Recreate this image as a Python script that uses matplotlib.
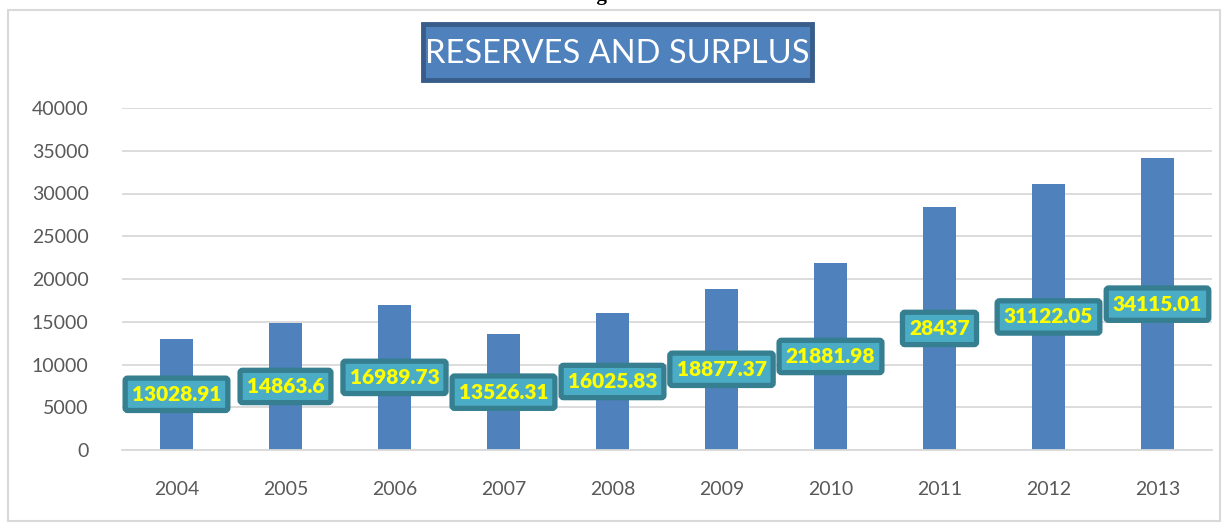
import matplotlib
matplotlib.use("Agg")
import matplotlib.pyplot as plt
from matplotlib.patches import Rectangle

years = ["2004", "2005", "2006", "2007", "2008", "2009", "2010", "2011", "2012", "2013"]
values = [13028.91, 14863.6, 16989.73, 13526.31, 16025.83, 18877.37, 21881.98, 28437, 31122.05, 34115.01]
label_texts = ["13028.91", "14863.6", "16989.73", "13526.31", "16025.83", "18877.37", "21881.98", "28437", "31122.05", "34115.01"]
yticks = [0, 5000, 10000, 15000, 20000, 25000, 30000, 35000, 40000]
title = "RESERVES AND SURPLUS"

W, H = 1225, 524
fig = plt.figure(figsize=(W / 100, H / 100), dpi=100)
fig.patch.set_facecolor("white")

def fx(px):
    return px / W

def fy(py):
    return 1 - py / H

# outer frame
fig.patches.append(Rectangle((fx(8), fy(521)), fx(1220) - fx(8), fy(10) - fy(521),
                             transform=fig.transFigure, fill=False, edgecolor="#D9D9D9", linewidth=1.5))

# "Figure 5" caption partly cut off at top (as in the reference)
fig.text(fx(615), fy(-5), "Figure 5", ha="center", va="center", fontsize=15,
         fontweight="bold", family="Liberation Serif", color="black")

ax = fig.add_axes([fx(122), fy(450), fx(1212) - fx(122), fy(108) - fy(450)])
x = list(range(len(years)))
ax.bar(x, values, width=0.31, color="#4F81BD", zorder=2)
ax.set_xlim(-0.5, len(years) - 0.5)
ax.set_ylim(0, 40000)
ax.set_yticks(yticks)
ax.set_yticklabels([str(v) for v in yticks])
ax.set_xticks(x)
ax.set_xticklabels(years)
ax.grid(axis="y", color="#D9D9D9", linewidth=1.3, zorder=0)
ax.set_axisbelow(True)
for s in ["top", "right", "left"]:
    ax.spines[s].set_visible(False)
ax.spines["bottom"].set_color("#D9D9D9")
ax.spines["bottom"].set_linewidth(1.3)
ax.tick_params(axis="both", length=0, labelsize=14, labelcolor="#595959")
ax.tick_params(axis="y", pad=24)
ax.tick_params(axis="x", pad=22)
for lab in ax.get_xticklabels() + ax.get_yticklabels():
    lab.set_family("Lato")

for xi, v, t in zip(x, values, label_texts):
    ax.text(xi, v / 2, t, ha="center", va="center", fontsize=15, fontweight="heavy",
            family="Lato", color="#FFFF00", zorder=5,
            bbox=dict(boxstyle="round,pad=0.32,rounding_size=0.12", facecolor="#4BACC6",
                      edgecolor="#357F90", linewidth=3.8))

# title box
fig.patches.append(Rectangle((fx(423), fy(80)), fx(812) - fx(423), fy(24) - fy(80),
                             transform=fig.transFigure, facecolor="#4F81BD",
                             edgecolor="#385D8A", linewidth=3.5))
fig.text(fx(617), fy(54), title, ha="center", va="center", fontsize=23.5,
         family="Lato", color="white")

fig.savefig("out.png", dpi=100, facecolor="white")
